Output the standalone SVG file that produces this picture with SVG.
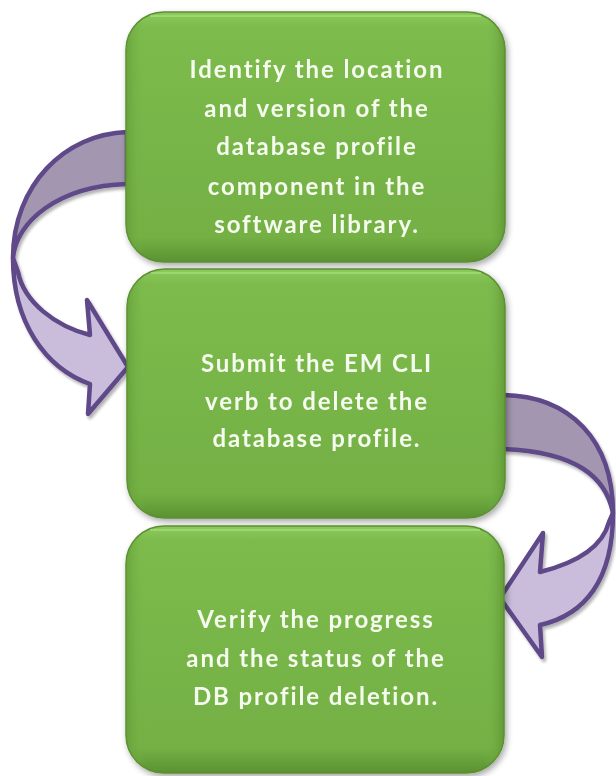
<svg xmlns="http://www.w3.org/2000/svg" width="616" height="776" viewBox="0 0 616 776">
<defs>
<linearGradient id="gf" x1="0" y1="0" x2="0" y2="1">
<stop offset="0" stop-color="#8cca5c"/>
<stop offset="0.06" stop-color="#7dbb4d"/>
<stop offset="0.9" stop-color="#74b044"/>
<stop offset="1" stop-color="#5a9231"/>
</linearGradient>
<linearGradient id="gs" x1="0" y1="0" x2="1" y2="0">
<stop offset="0" stop-color="#5f9a34" stop-opacity="0.7"/>
<stop offset="0.05" stop-color="#7ab84a" stop-opacity="0"/>
<stop offset="0.95" stop-color="#7ab84a" stop-opacity="0"/>
<stop offset="1" stop-color="#5a9030" stop-opacity="0.7"/>
</linearGradient>
<filter id="sh" x="-10%" y="-10%" width="120%" height="120%">
<feGaussianBlur in="SourceAlpha" stdDeviation="3"/>
<feOffset dx="2" dy="3"/>
<feComponentTransfer><feFuncA type="linear" slope="0.35"/></feComponentTransfer>
<feMerge><feMergeNode/><feMergeNode in="SourceGraphic"/></feMerge>
</filter>
<filter id="ash" x="-10%" y="-10%" width="120%" height="120%">
<feGaussianBlur in="SourceAlpha" stdDeviation="1.5"/>
<feOffset dx="2" dy="3"/>
<feComponentTransfer><feFuncA type="linear" slope="0.3"/></feComponentTransfer>
<feMerge><feMergeNode/><feMergeNode in="SourceGraphic"/></feMerge>
</filter>
</defs>
<style>
.box{fill:url(#gf);stroke:#5b8f33;stroke-width:1.5}
.bev{fill:url(#gs);stroke:none}
.hl{fill:none;stroke:#a6dd7c;stroke-width:2;stroke-opacity:0.7}
.t{font-family:Lato,"Open Sans","Liberation Sans",sans-serif;font-weight:bold;font-size:24px;fill:#f6fbef;text-anchor:middle;letter-spacing:1.9px}
.dark{fill:#a396b0;stroke:#5f4889;stroke-width:4.5;stroke-linejoin:round}
.light{fill:#c9bddb;stroke:#5f4889;stroke-width:4.5;stroke-linejoin:round}
</style>
<rect width="616" height="776" fill="#ffffff"/>
<g id="connectors" filter="url(#ash)">
<g id="arrow-left">
<path class="dark" d="M127,132 C65,134 13,185 13,258 C16,222 58,186 127,184 Z"/>
<path class="light" d="M13,258 C13,322 45,368 90,384 L88,414 L128,367 L87,300 L90,335 C55,326 24,302 18,272 Z"/>
</g>
<g id="arrow-right">
<path class="dark" d="M503,395 C570,396 613,440 613,513 C606,478 578,452 503,449 Z"/>
<path class="light" d="M613,513 C613,580 585,615 540,625 L542,657 L500,598 L543,533 L540,572 C580,562 603,545 609,522 Z"/>
</g>
</g>
<g id="node1" filter="url(#sh)">
<rect class="box" x="126" y="12" width="379" height="250" rx="38"/>
<rect class="bev" x="126" y="12" width="379" height="250" rx="38"/>
<path class="hl" d="M150,16 L481,16"/>
<text class="t" x="317" y="78">Identify the location</text>
<text class="t" x="317" y="117">and version of the</text>
<text class="t" x="317" y="155">database profile</text>
<text class="t" x="317" y="195">component in the</text>
<text class="t" x="317" y="233">software library.</text>
</g>
<g id="node2" filter="url(#sh)">
<rect class="box" x="127" y="269" width="378" height="249" rx="38"/>
<rect class="bev" x="127" y="269" width="378" height="249" rx="38"/>
<path class="hl" d="M151,273 L481,273"/>
<text class="t" x="317" y="372">Submit the EM CLI</text>
<text class="t" x="317" y="410">verb to delete the</text>
<text class="t" x="317" y="447">database profile.</text>
</g>
<g id="node3" filter="url(#sh)">
<rect class="box" x="126" y="526" width="378" height="247" rx="38"/>
<rect class="bev" x="126" y="526" width="378" height="247" rx="38"/>
<path class="hl" d="M150,530 L480,530"/>
<text class="t" x="316" y="628">Verify the progress</text>
<text class="t" x="316" y="667">and the status of the</text>
<text class="t" x="316" y="705">DB profile deletion.</text>
</g>
</svg>
